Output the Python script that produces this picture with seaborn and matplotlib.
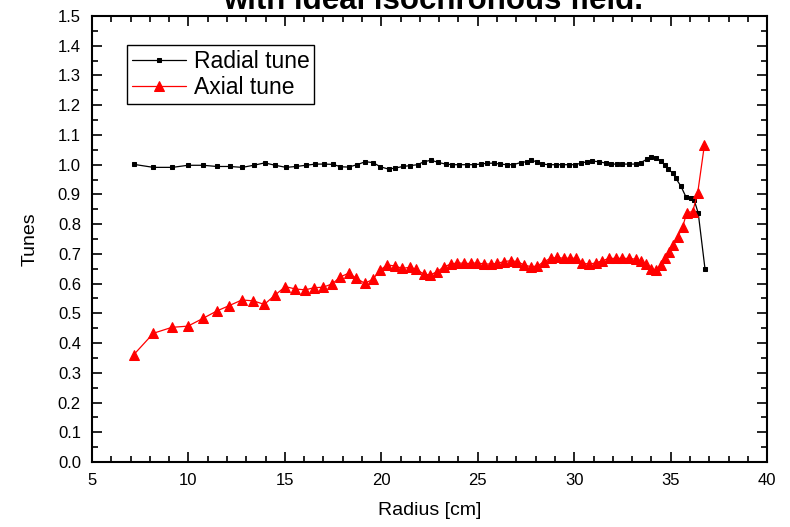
import pandas as pd
import matplotlib
matplotlib.use("Agg")
import matplotlib.pyplot as plt
import seaborn as sns
from matplotlib.ticker import MultipleLocator, FormatStrFormatter

# radial tune vs radius
radial_r = [7.18, 8.18, 9.17, 9.97, 10.75, 11.47, 12.13, 12.79, 13.38, 13.95,
            14.5, 15.06, 15.59, 16.08, 16.58, 17.05, 17.5, 17.88, 18.31, 18.74,
            19.17, 19.57, 19.95, 20.38, 20.73, 21.13, 21.51, 21.89, 22.2, 22.59,
            22.93, 23.33, 23.68, 24.02, 24.42, 24.8, 25.15, 25.49, 25.84, 26.15,
            26.5, 26.84, 27.22, 27.53, 27.78, 28.09, 28.35, 28.69, 29.04, 29.39,
            29.73, 30.05, 30.35, 30.65, 30.94, 31.29, 31.64, 31.9, 32.2, 32.5,
            32.85, 33.19, 33.45, 33.76, 34.0, 34.23, 34.49, 34.7, 34.84, 35.1,
            35.27, 35.53, 35.79, 36.05, 36.22, 36.43, 36.78]
radial_tune = [1.001, 0.991, 0.991, 0.998, 0.998, 0.994, 0.994, 0.991, 0.998, 1.006,
               0.998, 0.991, 0.994, 0.998, 1.002, 1.002, 1.001, 0.993, 0.992, 1.0,
               1.01, 1.007, 0.993, 0.985, 0.989, 0.994, 0.997, 1.0, 1.01, 1.015,
               1.008, 1.002, 1.0, 1.0, 1.0, 1.0, 1.002, 1.005, 1.005, 1.002,
               1.0, 1.0, 1.007, 1.01, 1.015, 1.009, 1.002, 1.0, 1.0, 1.0,
               1.0, 1.0, 1.005, 1.01, 1.012, 1.01, 1.005, 1.002, 1.002, 1.002,
               1.002, 1.002, 1.007, 1.018, 1.025, 1.024, 1.012, 0.999, 0.985, 0.973,
               0.954, 0.928, 0.892, 0.889, 0.881, 0.837, 0.650]

# axial tune vs radius
axial_r = [7.15, 8.18, 9.14, 9.97, 10.75, 11.47, 12.11, 12.77, 13.37, 13.93,
           14.5, 15.02, 15.54, 16.06, 16.49, 16.98, 17.45, 17.88, 18.31, 18.71,
           19.14, 19.55, 19.95, 20.3, 20.73, 21.08, 21.47, 21.82, 22.2, 22.51,
           22.9, 23.24, 23.59, 23.94, 24.28, 24.63, 24.97, 25.32, 25.66, 26.01,
           26.36, 26.7, 27.05, 27.4, 27.74, 28.09, 28.43, 28.78, 29.13, 29.47,
           29.8, 30.08, 30.42, 30.77, 31.12, 31.46, 31.81, 32.16, 32.5, 32.85,
           33.19, 33.45, 33.71, 33.97, 34.23, 34.49, 34.7, 34.9, 35.1, 35.36,
           35.62, 35.84, 36.14, 36.4, 36.75]
axial_tune = [0.360, 0.433, 0.453, 0.457, 0.483, 0.508, 0.526, 0.545, 0.542, 0.530,
              0.562, 0.590, 0.582, 0.579, 0.586, 0.588, 0.599, 0.623, 0.635, 0.618,
              0.601, 0.614, 0.646, 0.663, 0.659, 0.651, 0.655, 0.648, 0.632, 0.629,
              0.640, 0.657, 0.665, 0.670, 0.668, 0.668, 0.670, 0.666, 0.666, 0.668,
              0.674, 0.677, 0.674, 0.663, 0.657, 0.659, 0.674, 0.685, 0.688, 0.685,
              0.686, 0.685, 0.670, 0.665, 0.670, 0.677, 0.685, 0.685, 0.685, 0.685,
              0.682, 0.676, 0.665, 0.649, 0.646, 0.663, 0.685, 0.707, 0.730, 0.756,
              0.791, 0.839, 0.842, 0.904, 1.066]

df_radial = pd.DataFrame({"radius": radial_r, "tune": radial_tune})
df_axial = pd.DataFrame({"radius": axial_r, "tune": axial_tune})

sns.set_style("ticks")
plt.rcParams["font.family"] = ["Liberation Sans", "DejaVu Sans"]
plt.rcParams["text.color"] = "black"
plt.rcParams["axes.labelcolor"] = "black"
plt.rcParams["xtick.color"] = "black"
plt.rcParams["ytick.color"] = "black"

fig = plt.figure(figsize=(7.9, 5.27), dpi=100)
ax = fig.add_axes([0.1165, 0.1233, 0.8545, 0.8463])

sns.lineplot(data=df_radial, x="radius", y="tune", ax=ax, color="black",
             linewidth=0.9, marker="s", markersize=3, markeredgecolor="black",
             label="Radial tune", sort=False)
sns.lineplot(data=df_axial, x="radius", y="tune", ax=ax, color="red",
             linewidth=0.9, marker="^", markersize=7, markeredgecolor="red",
             label="Axial tune", sort=False)

ax.set_xlim(5, 40)
ax.set_ylim(0, 1.5)
ax.xaxis.set_major_locator(MultipleLocator(5))
ax.xaxis.set_minor_locator(MultipleLocator(1))
ax.yaxis.set_major_locator(MultipleLocator(0.1))
ax.yaxis.set_minor_locator(MultipleLocator(0.05))
ax.yaxis.set_major_formatter(FormatStrFormatter("%.1f"))
ax.tick_params(which="both", direction="in", top=True, right=True,
               labelsize=12, width=1.2, colors="black", pad=8)
ax.tick_params(which="major", length=7)
ax.tick_params(which="minor", length=4)
for s in ax.spines.values():
    s.set_linewidth(1.5)
    s.set_color("black")

ax.set_xlabel("Radius [cm]", fontsize=14, color="black", labelpad=10)
ax.set_ylabel("Tunes", fontsize=14, color="black", labelpad=14)

leg = ax.legend(loc="upper left", bbox_to_anchor=(0.052, 0.935),
                borderaxespad=0, fontsize=16.5, handlelength=2.35,
                fancybox=False, edgecolor="black", framealpha=1,
                borderpad=0.2, labelspacing=0.15, handletextpad=0.35)
leg.get_frame().set_linewidth(1.0)
for t in leg.get_texts():
    t.set_color("black")

# title is clipped by the top edge in the reference
fig.text(0.548, 0.983, "with ideal isochronous field.", ha="center",
         va="baseline", fontsize=22.5, fontweight="bold", color="black")

fig.savefig("out.png", dpi=100)
